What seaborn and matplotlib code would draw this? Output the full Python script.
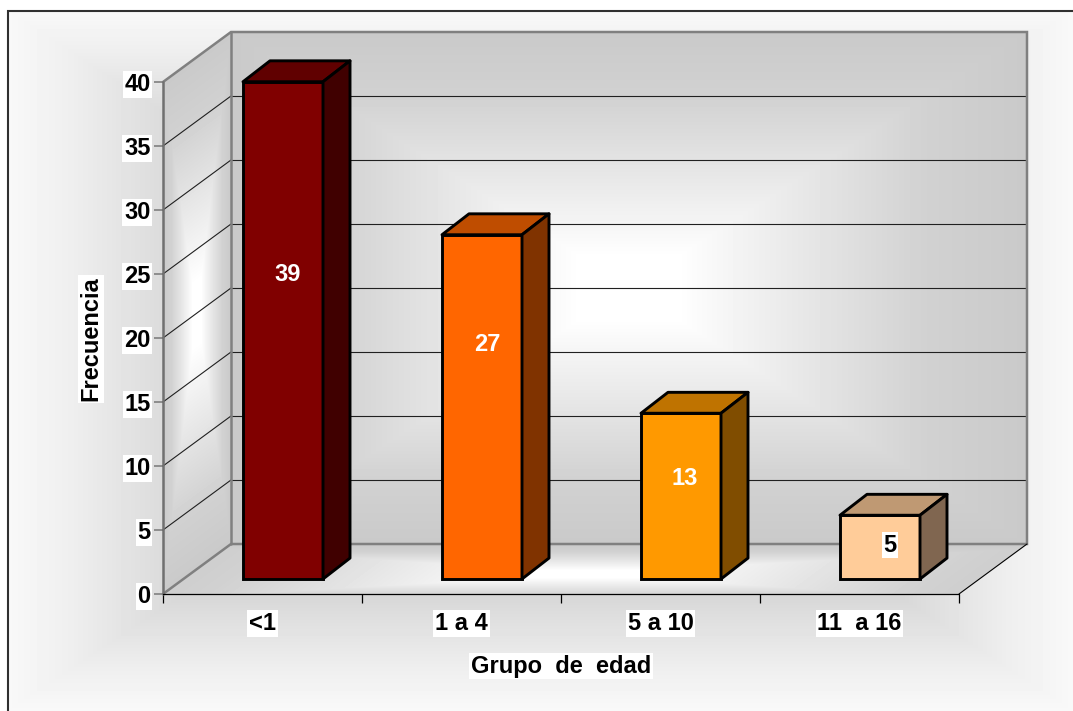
import numpy as np
import pandas as pd
import seaborn as sns
import matplotlib
matplotlib.use("Agg")
import matplotlib.pyplot as plt
from matplotlib.patches import Polygon

# Chart data
grupos = ["<1", "1 a 4", "5 a 10", "11  a 16"]
frecuencias = [39, 27, 13, 5]
colores = ["#800000", "#FF6600", "#FF9900", "#FFCC99"]
colores_tapa = ["#600000", "#BF4D00", "#BF7300", "#BF9973"]
colores_lado = ["#400000", "#803300", "#804D00", "#806650"]
colores_texto = ["white", "white", "white", "black"]
alturas_texto = [23.9, 18.4, 7.9, 2.65]
corrimiento_texto = [5, 5, 4, 10]
marcas_y = [0, 5, 10, 15, 20, 25, 30, 35, 40]

W, H = 1073, 711
X0, X1, Y0, Y1 = 163, 959, 594, 82      # front plane of the plot box, pixels
WX, WY = 68, 50                         # depth of the plot box
CAT = (X1 - X0) / 4
UNIT = (Y0 - Y1) / 40
BX, BY = 20.5, 15                       # front face of the bars, relative to the box
FS = 17

sns.set_theme(style="white")
plt.rcParams["font.family"] = ["Liberation Sans", "DejaVu Sans"]
plt.rcParams["font.weight"] = "bold"

fig = plt.figure(figsize=(W / 100, H / 100), dpi=100, facecolor="white")


def rect(x0, x1, y_bottom, y_top):
    return [x0 / W, 1 - y_bottom / H, (x1 - x0) / W, (y_bottom - y_top) / H]


# Shaded background: grey ramps on the chart area and on the three box faces
def ramp(d):
    return np.interp(d, [0, 0.12, 0.3, 0.55, 0.75, 1], [1, 1, 0.945, 0.875, 0.82, 0.79])


yy, xx = np.mgrid[0:H, 0:W] + 0.5
shade = np.ones((H, W))
inside = (xx >= 8) & (yy >= 11)
d_o = np.maximum(np.abs(xx - 540) / 532, np.abs(yy - 360) / 350)
shade[inside] = (0.975 - np.interp(d_o, [0.6, 0.72, 0.88, 1], [0.17, 0.11, 0.04, 0]))[inside]

# left wall
u = (xx - X0) / WX
w = (Y0 - WY * u - yy) / (Y0 - Y1)
m = (u >= 0) & (u <= 1) & (w >= 0) & (w <= 1)
d = np.maximum(np.abs(u - 0.5) * 2, np.abs(w - 0.5) * 2)
shade[m] = ramp(d)[m]
# floor
w2 = (Y0 - yy) / WY
u2 = (xx - X0 - WX * w2) / (X1 - X0)
m = (u2 >= 0) & (u2 <= 1) & (w2 >= 0) & (w2 <= 1)
d = np.maximum(np.abs(u2 - 0.5) * 1.7, np.abs(w2 - 0.4) * 1.7)
shade[m] = ramp(d)[m]
# back wall
u3 = (xx - X0 - WX) / (X1 - X0)
w3 = (Y0 - WY - yy) / (Y0 - Y1)
m = (u3 >= 0) & (u3 <= 1) & (w3 >= 0) & (w3 <= 1)
d = np.maximum(np.abs(u3 - 0.5) * 2, np.abs(w3 - 0.5) * 2)
shade[m] = ramp(d)[m]

ax_bg = fig.add_axes([0, 0, 1, 1], zorder=0)
ax_bg.imshow(shade, cmap="gray", vmin=0, vmax=1, extent=(0, W, H, 0), aspect="auto",
             interpolation="nearest")
ax_bg.set_axis_off()
# outer frame, open on the right and at the bottom
ax_bg.plot([8, 8, W], [H, 11, 11], color="#303030", lw=1.5, solid_joinstyle="miter")

# Main axes: front plane of the box, holds the scales and the tick labels
ax = fig.add_axes(rect(X0, X1, Y0, Y1), zorder=1)
ax.patch.set_alpha(0)
ax.set_xlim(-0.5, 3.5)
ax.set_ylim(0, 40)
sns.despine(ax=ax, left=True, bottom=True, top=True, right=True)

wx = WX / CAT
wy = WY / UNIT
for v in marcas_y[1:-1]:
    ax.plot([-0.5, -0.5 + wx], [v, v + wy], color="#202020", lw=0.8, clip_on=False, zorder=2)
    ax.plot([-0.5 + wx, 3.5 + wx], [v + wy, v + wy], color="#202020", lw=0.8, clip_on=False,
            zorder=2)
gris = "#808080"
ax.plot([-0.5, -0.5 + wx, 3.5 + wx, 3.5 + wx, -0.5 + wx, -0.5],
        [40, 40 + wy, 40 + wy, wy, wy, 0], color=gris, lw=1.8, clip_on=False, zorder=3,
        solid_joinstyle="miter")
ax.plot([-0.5 + wx, -0.5 + wx], [wy, 40 + wy], color=gris, lw=1.8, clip_on=False, zorder=3)
ax.plot([-0.5, -0.5], [0, 40], color="#707070", lw=1.8, clip_on=False, zorder=3)
ax.plot([-0.5, 3.5], [0, 0], color="black", lw=0.9, clip_on=False, zorder=4)
ax.plot([3.5, 3.5 + wx], [0, wy], color="black", lw=0.8, clip_on=False, zorder=4)

ax.set_yticks(marcas_y)
ax.set_xticks(np.arange(-0.5, 4))
ax.set_xticklabels([])
ax.set_xticks(np.arange(4), labels=grupos, minor=True)
ax.tick_params(axis="y", length=6.5, width=1.2, color=gris, labelsize=FS, pad=2.5, left=True)
ax.tick_params(axis="x", which="major", length=6.5, width=0.9, color="black", bottom=True)
ax.tick_params(axis="x", which="minor", length=0, labelsize=FS, pad=13)
caja = dict(facecolor="white", edgecolor="none", pad=1.2)
for t in ax.get_yticklabels() + ax.get_xticklabels(minor=True):
    t.set_bbox(caja)
    t.set_fontweight("bold")
    t.set_color("black")
ax.set_xlabel("Grupo  de  edad", fontsize=FS, fontweight="bold", color="black", bbox=caja)
ax.set_ylabel("Frecuencia", fontsize=FS, fontweight="bold", color="black", bbox=caja)
ax.xaxis.set_label_coords(0.5, -(666 - Y0) / (Y0 - Y1), transform=ax.transAxes)
ax.yaxis.set_label_coords((91 - X0) / (X1 - X0), (Y0 - 339) / (Y0 - Y1), transform=ax.transAxes)
ax.xaxis.label.set_verticalalignment("center")
ax.yaxis.label.set_verticalalignment("center")

# Bars live on a plane set back inside the box
ax_b = fig.add_axes(rect(X0 + BX, X1 + BX, Y0 - BY, Y1 - BY + 2), zorder=2)
ax_b.patch.set_alpha(0)
tabla = pd.DataFrame({"grupo": grupos, "n": frecuencias})
sns.barplot(data=tabla, x="grupo", y="n", hue="grupo", palette=colores, saturation=1,
            width=80 / CAT, edgecolor="black", linewidth=2.1, legend=False, ax=ax_b)
ax_b.set_xlim(-0.5, 3.5)
ax_b.set_ylim(0, 40)
ax_b.set_axis_off()

dx, dy = 27 / CAT, 21 / UNIT
for i, barra in enumerate(ax_b.patches):
    barra.set_clip_on(False)
    l, r, v = barra.get_x(), barra.get_x() + barra.get_width(), barra.get_height()
    tapa = [(l, v), (l + dx, v + dy), (r + dx, v + dy), (r, v)]
    lado = [(r, 0), (r + dx, dy), (r + dx, v + dy), (r, v)]
    for pts, c in ((tapa, colores_tapa[i]), (lado, colores_lado[i])):
        ax_b.add_patch(Polygon(pts, closed=True, facecolor=c, edgecolor="black", lw=2.1,
                               clip_on=False, joinstyle="round", zorder=barra.get_zorder()))
    fondo = caja if colores_texto[i] == "black" else None
    ax_b.text(i + corrimiento_texto[i] / CAT, alturas_texto[i], str(frecuencias[i]),
              color=colores_texto[i], fontsize=FS, fontweight="bold", ha="center",
              va="center", bbox=fondo, zorder=6)

fig.savefig("out.png", dpi=100)
